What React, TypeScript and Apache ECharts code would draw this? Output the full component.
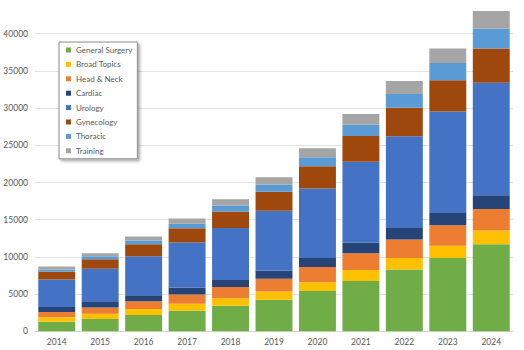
import React, { useEffect, useRef } from "react";
import * as echarts from "echarts";

const years = ["2014", "2015", "2016", "2017", "2018", "2019", "2020", "2021", "2022", "2023", "2024"];
const generalSurgery = [1300, 1650, 2200, 2750, 3450, 4250, 5400, 6750, 8300, 9850, 11700];
const broadTopics = [600, 700, 800, 950, 1000, 1100, 1200, 1500, 1550, 1650, 1850];
const headNeck = [700, 850, 1050, 1250, 1500, 1700, 2050, 2250, 2500, 2750, 2900];
const cardiac = [650, 750, 800, 950, 950, 1100, 1200, 1400, 1550, 1650, 1850];
const urology = [3700, 4450, 5250, 6050, 7000, 8050, 9350, 10900, 12300, 13650, 15100];
const gynecology = [1050, 1300, 1600, 1900, 2200, 2550, 3000, 3450, 3850, 4200, 4600];
const thoracic = [300, 400, 500, 600, 800, 950, 1200, 1500, 1850, 2300, 2700];
const training = [400, 400, 550, 700, 850, 1000, 1200, 1450, 1750, 1950, 2350];

const seriesDefs = [
  { name: "General Surgery", data: generalSurgery, color: "#70AD47" },
  { name: "Broad Topics", data: broadTopics, color: "#FFC000" },
  { name: "Head & Neck", data: headNeck, color: "#ED7D31" },
  { name: "Cardiac", data: cardiac, color: "#264478" },
  { name: "Urology", data: urology, color: "#4472C4" },
  { name: "Gynecology", data: gynecology, color: "#9E480E" },
  { name: "Thoracic", data: thoracic, color: "#5B9BD5" },
  { name: "Training", data: training, color: "#A5A5A5" },
];

export default function App() {
  const ref = useRef<HTMLDivElement>(null);
  useEffect(() => {
    if (!ref.current) return;
    const chart = echarts.init(ref.current, undefined, { renderer: "svg" });
    chart.setOption({
      animation: false,
      backgroundColor: "#ffffff",
      textStyle: { fontFamily: "Lato, 'Liberation Sans', sans-serif" },
      grid: { left: 35, right: 11, top: 0, bottom: 18.7, show: false, borderWidth: 0 },
      legend: {
        orient: "vertical",
        left: 59,
        top: 42,
        padding: [3, 5, 3, 7],
        itemGap: 4.4,
        itemWidth: 5,
        itemHeight: 5,
        icon: "rect",
        backgroundColor: "#ffffff",
        borderColor: "#8c8c8c",
        borderWidth: 1,
        shadowBlur: 3,
        shadowColor: "rgba(0,0,0,0.35)",
        shadowOffsetX: 2,
        shadowOffsetY: 2,
        textStyle: { fontSize: 8, lineHeight: 10, color: "#595959", fontFamily: "Lato, sans-serif" },
        data: seriesDefs.map((s) => s.name),
      },
      xAxis: {
        type: "category",
        data: years,
        axisLine: { lineStyle: { color: "#d9d9d9" } },
        axisTick: { show: false },
        splitLine: { show: false },
        splitArea: { show: false },
        axisLabel: { color: "#595959", fontSize: 8.5, margin: 6 },
      },
      yAxis: {
        type: "value",
        min: 0,
        max: 44530,
        interval: 5000,
        axisLine: { show: false },
        axisTick: { show: false },
        splitArea: { show: false },
        splitLine: { showMaxLine: false, lineStyle: { color: "#e3e3e3" } },
        axisLabel: {
          color: "#595959",
          fontSize: 8.5,
          margin: 7,
          showMaxLabel: false,
          formatter: (v: number) => (v > 40000 ? "" : String(v)),
        },
      },
      series: seriesDefs.map((s) => ({
        name: s.name,
        type: "bar",
        stack: "total",
        data: s.data,
        barCategoryGap: "15%",
        itemStyle: { color: s.color },
      })),
    });
    return () => chart.dispose();
  }, []);
  return <div ref={ref} style={{ position: "absolute", left: 0, top: 0, width: 524, height: 350 }} />;
}
